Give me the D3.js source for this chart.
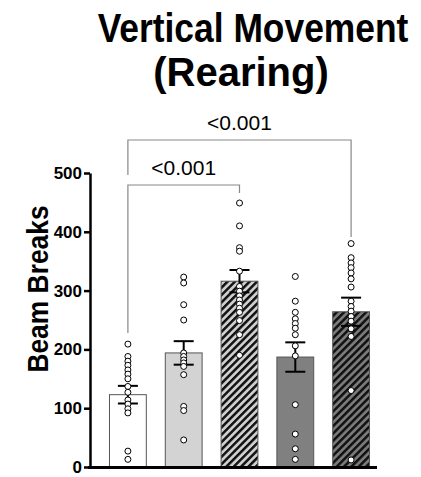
<!DOCTYPE html>
<html>
<head>
<meta charset="utf-8">
<script src="https://cdn.jsdelivr.net/npm/d3@7"></script>
<style>
  body { margin:0; background:#fff; }
  text { font-family: "Liberation Sans", Arial, sans-serif; }
</style>
</head>
<body>
<svg id="chart" width="421" height="477"></svg>
<script>
// groups (no visible x labels in the figure)
var groups = ["g1", "g2", "g3", "g4", "g5"];
var means = [123, 194, 316, 187, 264];
var sems = [15, 20, 19, 25, 24];
var yTicks = [0, 100, 200, 300, 400, 500];

// individual animals per group
var pts1 = [209, 188, 180, 173, 165, 158, 150, 137, 127, 114, 107, 99, 92, 27, 13];
var pts2 = [323, 313, 276, 250, 194, 188, 182, 177, 171, 157, 103, 96, 46];
var pts3 = [449, 410, 373, 367, 333, 307, 299, 291, 284, 277, 270, 263, 249, 225, 190];
var pts4 = [324, 282, 263, 252, 244, 236, 225, 206, 189, 106, 56, 31, 13];
var pts5 = [380, 356, 347, 339, 330, 320, 306, 282, 273, 265, 256, 248, 235, 222, 130, 12];
var points = [pts1, pts2, pts3, pts4, pts5];

var fills = ["#ffffff", "#d3d3d3", "url(#hatchLight)", "#808080", "url(#hatchDark)"];

// comparisons: [from group, to group, label]
var comparisons = [["g1", "g3", "<0.001"], ["g1", "g5", "<0.001"]];

var svg = d3.select("#chart");

var x = d3.scaleBand()
    .domain(groups)
    .range([100, 379])
    .paddingInner(0.34)
    .paddingOuter(0.17);

var y = d3.scaleLinear()
    .domain([0, 500])
    .range([467, 173]);

// hatch patterns
var defs = svg.append("defs");
function hatch(id, bg) {
    var p = defs.append("pattern")
        .attr("id", id)
        .attr("patternUnits", "userSpaceOnUse")
        .attr("width", 5.2)
        .attr("height", 5.2)
        .attr("patternTransform", "rotate(45)");
    p.append("rect").attr("width", 5.2).attr("height", 5.2).attr("fill", bg);
    p.append("rect").attr("width", 2.5).attr("height", 5.2).attr("fill", "#111");
}
hatch("hatchLight", "#cfcfcf");
hatch("hatchDark", "#7a7a7a");

// title
svg.append("text")
    .attr("transform", "translate(253,42) scale(1,1.14)")
    .attr("text-anchor", "middle")
    .attr("font-size", 35.4).attr("font-weight", "bold")
    .text("Vertical Movement");
svg.append("text")
    .attr("x", 241).attr("y", 86)
    .attr("text-anchor", "middle")
    .attr("font-size", 40).attr("font-weight", "bold")
    .text("(Rearing)");

// y label
svg.append("text")
    .attr("transform", "translate(48,289) rotate(-90) scale(1,1.13)")
    .attr("text-anchor", "middle")
    .attr("font-size", 26.4).attr("font-weight", "bold")
    .text("Beam Breaks");

// bars
svg.append("g").selectAll("rect")
    .data(groups)
    .enter()
    .append("rect")
    .attr("x", function(d) { return x(d); })
    .attr("y", function(d, i) { return y(means[i]); })
    .attr("width", x.bandwidth())
    .attr("height", function(d, i) { return y(0) - y(means[i]); })
    .attr("fill", function(d, i) { return fills[i]; })
    .attr("stroke", "#555")
    .attr("stroke-width", 1);

// error bars
var eb = svg.append("g")
    .attr("stroke", "#000")
    .attr("stroke-width", 2);
groups.forEach(function(g, i) {
    var cx = x(g) + x.bandwidth() / 2;
    var hi = y(means[i] + sems[i]);
    var lo = y(means[i] - sems[i]);
    eb.append("line").attr("x1", cx).attr("x2", cx).attr("y1", hi).attr("y2", lo);
    eb.append("line").attr("x1", cx - 10).attr("x2", cx + 10).attr("y1", hi).attr("y2", hi);
    eb.append("line").attr("x1", cx - 10).attr("x2", cx + 10).attr("y1", lo).attr("y2", lo);
});

// points
groups.forEach(function(g, i) {
    var cx = x(g) + x.bandwidth() / 2;
    svg.append("g").selectAll("circle")
        .data(points[i])
        .enter()
        .append("circle")
        .attr("cx", cx)
        .attr("cy", function(d) { return y(d); })
        .attr("r", 3)
        .attr("fill", "#fff")
        .attr("stroke", "#000")
        .attr("stroke-width", 1);
});

// axes
var yAxis = d3.axisLeft(y).tickValues(yTicks).tickSize(6).tickSizeOuter(0);
var ya = svg.append("g")
    .attr("transform", "translate(90,0)")
    .call(yAxis);
ya.select(".domain").attr("stroke-width", 2.5);
ya.selectAll(".tick line").attr("stroke-width", 2.5);
ya.selectAll(".tick text")
    .attr("font-size", 17).attr("font-weight", "bold")
    .attr("font-family", "Liberation Sans, Arial, sans-serif")
    .attr("x", -8);

svg.append("line")
    .attr("x1", 88).attr("x2", 377)
    .attr("y1", y(0) + 0.5).attr("y2", y(0) + 0.5)
    .attr("stroke", "#000").attr("stroke-width", 3);

// significance brackets
var br = svg.append("g")
    .attr("stroke", "#888").attr("stroke-width", 1.2).attr("fill", "none");
function cxOf(g) { return x(g) + x.bandwidth() / 2; }
var inner = comparisons[0], outer = comparisons[1];

br.append("path").attr("d",
    "M" + cxOf(inner[0]) + "," + 333 +
    "V" + 185 + "H" + cxOf(inner[1]) + "V" + 193);
svg.append("text")
    .attr("x", (cxOf(inner[0]) + cxOf(inner[1])) / 2).attr("y", 175)
    .attr("text-anchor", "middle").attr("font-size", 21)
    .text(inner[2]);

br.append("path").attr("d",
    "M" + cxOf(outer[0]) + "," + 175 +
    "V" + 140 + "H" + cxOf(outer[1]) + "V" + 237);
svg.append("text")
    .attr("x", (cxOf(outer[0]) + cxOf(outer[1])) / 2).attr("y", 130)
    .attr("text-anchor", "middle").attr("font-size", 21)
    .text(outer[2]);
</script>
</body>
</html>
